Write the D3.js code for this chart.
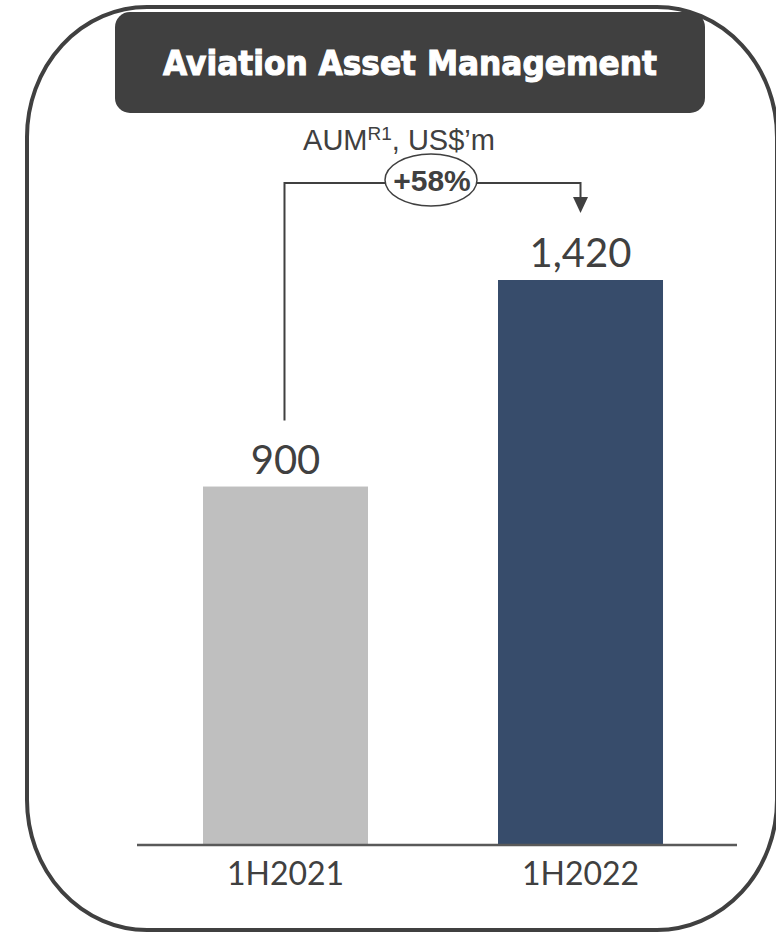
<!DOCTYPE html>
<html>
<head>
<meta charset="utf-8">
<script src="https://cdn.jsdelivr.net/npm/d3@7"></script>
<style>
html,body{margin:0;padding:0;background:#fff;}
svg{display:block;}
</style>
</head>
<body>
<svg id="chart" width="776" height="934"></svg>
<script>
const categories = ["1H2021", "1H2022"];
const values = [900, 1420];
const valueLabels = ["900", "1,420"];
const barColors = ["#BFBFBF", "#374C6B"];
const title = "Aviation Asset Management";
const growthLabel = "+58%";

const svg = d3.select("#chart");
const dark = "#404040";

// outer rounded frame
svg.append("rect")
  .attr("x", 27).attr("y", 7).attr("width", 750).attr("height", 923)
  .attr("rx", 120).attr("ry", 130)
  .attr("fill", "#fff").attr("stroke", dark).attr("stroke-width", 4);

// title box
svg.append("rect")
  .attr("x", 115).attr("y", 12).attr("width", 590).attr("height", 101)
  .attr("rx", 15).attr("fill", dark);
svg.append("text")
  .attr("x", 410).attr("y", 75)
  .attr("text-anchor", "middle")
  .attr("fill", "#fff")
  .attr("font-family", "'DejaVu Sans', Arial, sans-serif")
  .attr("font-weight", "bold")
  .attr("font-size", 33)
  .attr("textLength", 494).attr("lengthAdjust", "spacingAndGlyphs")
  .attr("stroke", "#fff").attr("stroke-width", 1.1)
  .text(title);

// scales
const x = d3.scaleBand().domain(categories).range([137, 729]).paddingInner(0.4407).paddingOuter(0.2237);
const y = d3.scaleLinear().domain([0, 1420]).range([844, 280]);

// subtitle
const sub = svg.append("text")
  .attr("x", 399).attr("y", 150)
  .attr("text-anchor", "middle")
  .attr("fill", dark)
  .attr("font-family", "'Liberation Sans', Arial, sans-serif")
  .attr("font-size", 29);
sub.append("tspan").text("AUM");
sub.append("tspan").attr("font-size", 19).attr("dy", -10).text("R1");
sub.append("tspan").attr("dy", 10).text(", US$\u2019m");

// bars
svg.selectAll("rect.bar").data(categories).enter().append("rect")
  .attr("class", "bar")
  .attr("x", d => x(d)).attr("width", x.bandwidth())
  .attr("y", (d, i) => y(values[i]))
  .attr("height", (d, i) => y(0) - y(values[i]))
  .attr("fill", (d, i) => barColors[i]);

// value labels
svg.selectAll("text.val").data(categories).enter().append("text")
  .attr("class", "val")
  .attr("x", d => x(d) + x.bandwidth() / 2)
  .attr("y", (d, i) => y(values[i]) - 13)
  .attr("text-anchor", "middle")
  .attr("fill", dark)
  .attr("font-family", "Lato, 'Open Sans', sans-serif")
  .attr("font-size", 40)
  .text((d, i) => valueLabels[i]);

// axis
const axis = d3.axisBottom(x).tickSize(0).tickPadding(18);
const ag = svg.append("g").attr("transform", `translate(0,${y(0)})`).call(axis);
ag.select(".domain").remove();
ag.selectAll("text")
  .attr("fill", dark)
  .attr("font-family", "Lato, 'Open Sans', sans-serif")
  .attr("font-size", 32);
svg.append("line")
  .attr("x1", 137).attr("x2", 737)
  .attr("y1", y(0) + 1).attr("y2", y(0) + 1)
  .attr("stroke", "#595959").attr("stroke-width", 2.5);

// growth bracket
const x1 = x(categories[0]) + x.bandwidth() / 2 - 1;
const x2 = x(categories[1]) + x.bandwidth() / 2;
const yTop = 183;
svg.append("path")
  .attr("d", `M${x1},${y(values[0]) - 66} V${yTop} H${x2} V${yTop + 16}`)
  .attr("fill", "none").attr("stroke", dark).attr("stroke-width", 2);
svg.append("path")
  .attr("d", `M${x2 - 7.5},${yTop + 14} L${x2 + 7.5},${yTop + 14} L${x2},${yTop + 30} Z`)
  .attr("fill", dark);

svg.append("ellipse")
  .attr("cx", 431).attr("cy", 180).attr("rx", 46).attr("ry", 26)
  .attr("fill", "#fff").attr("stroke", dark).attr("stroke-width", 1.5);
svg.append("text")
  .attr("x", 432).attr("y", 191)
  .attr("text-anchor", "middle")
  .attr("fill", dark)
  .attr("font-family", "'Liberation Sans', Arial, sans-serif")
  .attr("font-weight", "bold")
  .attr("font-size", 30)
  .text(growthLabel);
</script>
</body>
</html>
